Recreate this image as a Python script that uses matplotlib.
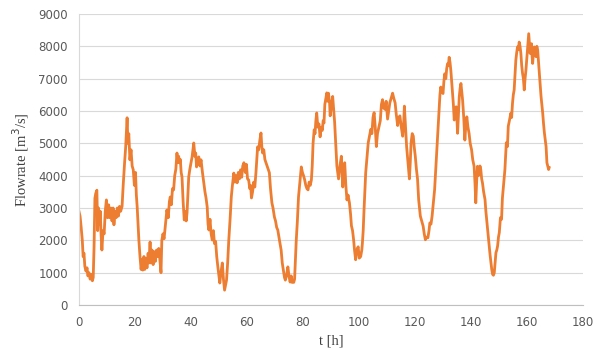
import numpy as np
import matplotlib
matplotlib.use("Agg")
import matplotlib.pyplot as plt

# hourly flow record (t in h, flow in m3/s)
t_h = [
    0, 0.4, 0.8, 1.2, 1.5, 1.8, 2.1, 2.5, 2.9, 3.2, 3.6, 4.0, 4.4, 4.8, 5.1, 5.4, 5.7, 6.0, 6.4, 6.7,
    7.0, 7.3, 7.6, 7.9, 8.2, 8.6, 9.0, 9.4, 9.8, 10.2, 10.6, 11.0, 11.4, 11.8, 12.2, 12.5, 12.9, 13.3, 13.7, 14.1,
    14.5, 14.9, 15.4, 15.8, 16.3, 16.7, 17.0, 17.2, 17.5, 17.8, 18.2, 18.6, 19.0, 19.4, 19.8, 20.2, 20.5, 20.8, 21.1, 21.4,
    21.8, 22.2, 22.5, 22.8, 23.2, 23.5, 23.9, 24.3, 24.7, 25.0, 25.4, 25.7, 26.1, 26.5, 26.9, 27.3, 27.7, 28.1, 28.5, 28.9,
    29.3, 29.6, 30.0, 30.4, 30.8, 31.4, 31.9, 32.3, 32.6, 33.0, 33.4, 33.8, 34.2, 34.6, 35.0, 35.3, 35.6, 36.0, 36.2, 36.5,
    36.8, 37.2, 37.6, 38.0, 38.3, 38.6, 38.9, 39.2, 39.6, 40.0, 40.4, 41.0, 41.4, 41.7, 42.0, 42.4, 42.8, 43.2, 43.6, 44.1,
    44.6, 45.0, 45.4, 45.8, 46.1, 46.4, 46.8, 47.2, 47.6, 48.0, 48.4, 48.8, 49.2, 49.6, 50.0, 50.3, 50.7, 51.2, 51.6, 52.0,
    52.3, 52.7, 53.1, 53.5, 54.0, 54.4, 54.8, 55.3, 55.7, 56.1, 56.5, 56.9, 57.3, 57.7, 58.1, 58.5, 58.9, 59.4, 59.8, 60.2,
    60.6, 61.0, 61.3, 61.6, 62.0, 62.4, 62.8, 63.2, 63.5, 63.8, 64.2, 64.6, 65.0, 65.3, 65.6, 66.0, 66.4, 66.8, 67.2, 67.6,
    68.0, 68.4, 68.9, 69.3, 69.8, 70.2, 70.6, 71.0, 71.4, 71.8, 72.2, 72.6, 73.0, 73.4, 73.7, 74.1, 74.6, 75.0, 75.4, 75.8,
    76.1, 76.4, 76.7, 77.0, 77.3, 77.6, 78.0, 78.4, 78.9, 79.4, 79.8, 80.2, 80.6, 81.0, 81.4, 81.8, 82.2, 82.6, 83.0, 83.3,
    83.6, 84.0, 84.3, 84.6, 84.9, 85.3, 85.7, 86.1, 86.5, 86.9, 87.2, 87.5, 87.8, 88.2, 88.5, 88.8, 89.1, 89.5, 89.7, 90.2,
    90.6, 91.0, 91.3, 91.7, 92.1, 92.4, 92.7, 93.2, 93.7, 94.2, 94.5, 94.9, 95.3, 95.7, 96.1, 96.6, 97.0, 97.3, 97.7, 98.1,
    98.4, 98.8, 99.2, 99.7, 100.1, 100.6, 101.0, 101.2, 101.5, 101.8, 102.1, 102.4, 102.8, 103.3, 103.7, 104.2, 104.6, 105.0, 105.4, 105.8,
    106.2, 106.6, 107.2, 107.6, 108.0, 108.4, 108.8, 109.3, 109.7, 110.2, 110.6, 111.0, 111.5, 112.0, 112.4, 112.9, 113.3, 113.8, 114.2, 114.6,
    115.1, 115.6, 116.0, 116.2, 116.6, 117.0, 117.4, 117.7, 118.0, 118.3, 118.6, 119.0, 119.4, 119.7, 120.1, 120.5, 120.9, 121.3, 121.9, 122.4,
    122.9, 123.3, 123.7, 124.2, 124.6, 125.0, 125.3, 125.7, 126.1, 126.5, 127.0, 127.4, 127.8, 128.2, 128.6, 128.9, 129.2, 129.6, 130.0, 130.3,
    130.6, 131.0, 131.3, 131.6, 131.9, 132.2, 132.5, 132.8, 133.1, 133.4, 133.7, 134.0, 134.4, 134.7, 135.0, 135.2, 135.5, 135.8, 136.1, 136.4,
    136.7, 137.0, 137.4, 137.8, 138.1, 138.5, 138.9, 139.3, 139.7, 140.2, 140.6, 141.1, 141.4, 141.7, 142.0, 142.3, 142.6, 142.9, 143.2, 143.5,
    143.8, 144.1, 144.5, 145.0, 145.3, 145.7, 146.1, 146.5, 146.8, 147.1, 147.4, 147.7, 148.0, 148.3, 148.6, 148.9, 149.2, 149.5, 149.8, 150.1,
    150.5, 150.9, 151.2, 151.6, 152.1, 152.6, 153.0, 153.3, 153.7, 154.2, 154.5, 154.8, 155.1, 155.4, 155.7, 156.0, 156.3, 156.6, 156.9, 157.2,
    157.5, 157.8, 158.1, 158.4, 158.7, 159.0, 159.3, 159.6, 159.9, 160.2, 160.6, 160.9, 161.1, 161.4, 161.6, 161.8, 162.0, 162.3, 162.6, 162.9,
    163.2, 163.5, 163.8, 164.1, 164.4, 164.7, 165.0, 165.3, 165.6, 165.9, 166.2, 166.5, 166.8, 167.1, 167.4, 167.7, 167.9,
]

flow = [
    2900, 2750, 2400, 2000, 1500, 1600, 1200, 1050, 1150, 900, 1000, 800, 950, 750, 850, 1800, 3300, 3450, 3550, 2300,
    3000, 2500, 2900, 2200, 1700, 2300, 2200, 2900, 3250, 2700, 3100, 2700, 3000, 2600, 3000, 2480, 2900, 2700, 3000, 2750,
    3050, 2900, 3050, 3700, 4400, 4900, 5400, 5790, 5000, 5300, 4490, 4800, 4300, 4180, 3700, 4100, 3400, 3030, 2500, 2010,
    1500, 1100, 1400, 1080, 1500, 1100, 1450, 1150, 1600, 1300, 1950, 1300, 1700, 1250, 1650, 1350, 1700, 1500, 1750, 1400,
    1000, 2000, 2200, 2050, 2400, 2940, 2700, 3200, 3340, 3100, 3600, 3560, 4000, 4200, 4700, 4400, 4600, 4400, 4500, 4100,
    3960, 3200, 2630, 2900, 2600, 2850, 3400, 3960, 4200, 4400, 4580, 5010, 4600, 4700, 4270, 4500, 4580, 4300, 4490, 4100,
    3780, 3500, 3300, 3030, 2500, 2320, 2650, 2200, 2010, 2300, 1900, 1970, 1500, 1180, 900, 680, 1000, 1300, 800, 460,
    600, 770, 1300, 2000, 2700, 3340, 3700, 4080, 3800, 4000, 3780, 4100, 3900, 4180, 3950, 4300, 4400, 4100, 4350, 3900,
    3870, 3600, 3700, 3310, 3500, 3800, 3650, 4090, 4500, 4890, 4800, 5100, 5320, 4900, 4700, 4800, 4500, 4400, 4300, 4200,
    4090, 3600, 3160, 3000, 2720, 2600, 2400, 2320, 2100, 1900, 1700, 1300, 1080, 850, 770, 900, 1180, 900, 710, 900,
    700, 770, 700, 800, 1400, 2010, 2600, 3340, 3800, 4270, 4100, 4000, 3870, 3700, 3600, 3560, 3800, 3700, 3870, 4300,
    5000, 5420, 5300, 5700, 5940, 5500, 5600, 5200, 5500, 5400, 5700, 5630, 6200, 6400, 6560, 6300, 6550, 6250, 5850, 6200,
    6450, 6000, 5650, 5000, 4300, 4100, 3900, 4300, 4600, 3650, 4100, 4400, 3700, 3250, 3400, 3150, 2800, 2450, 2300, 2000,
    1700, 1400, 1700, 1800, 1450, 1500, 1700, 1900, 2300, 2950, 3500, 4100, 4500, 5020, 5200, 5430, 5300, 5800, 5950, 5500,
    4900, 5300, 5550, 5700, 6200, 6350, 6100, 6050, 6300, 5750, 6000, 6250, 6400, 6550, 6400, 6250, 5900, 5550, 5800, 5850,
    5500, 5220, 5700, 6150, 5500, 4900, 4500, 4200, 3900, 4400, 5020, 5300, 5220, 4900, 4600, 4200, 3900, 3260, 2750, 2600,
    2440, 2200, 2020, 2100, 2080, 2300, 2540, 2500, 2750, 3100, 3570, 4200, 4800, 5500, 6130, 6500, 6740, 6600, 6540, 6900,
    7150, 7000, 7300, 7460, 7400, 7660, 7500, 7250, 6900, 6540, 6200, 5720, 6000, 6130, 5700, 5310, 5900, 6440, 6700, 6850,
    6600, 6330, 5800, 5100, 5500, 5820, 5500, 5310, 5000, 4800, 4500, 4290, 3800, 3160, 3800, 4290, 4000, 4080, 4300, 4180,
    3900, 3770, 3500, 3260, 2900, 2540, 2200, 1830, 1550, 1320, 1100, 950, 920, 1000, 1300, 1620, 1700, 1830, 2100, 2240,
    2700, 2650, 3300, 3700, 4190, 5020, 4900, 5530, 5700, 5930, 5800, 6230, 6500, 6650, 7100, 7570, 7800, 7980, 7900, 8130,
    8000, 7780, 7400, 7160, 7000, 6650, 7000, 7260, 7600, 7980, 8390, 8000, 7780, 7900, 8080, 7700, 7470, 7800, 7980, 7800,
    7680, 8000, 7880, 7500, 7160, 6800, 6450, 6200, 5930, 5600, 5320, 5100, 4900, 4400, 4300, 4190, 4250,
]

x_ticks = [0, 20, 40, 60, 80, 100, 120, 140, 160, 180]
y_ticks = [0, 1000, 2000, 3000, 4000, 5000, 6000, 7000, 8000, 9000]

fig = plt.figure(figsize=(5.98, 3.49), dpi=100)
ax = fig.add_axes([0.132, 0.126, 0.843, 0.834])

ax.plot(t_h, flow, color="#ED7D31", linewidth=2.0, solid_joinstyle="round")

ax.set_xlim(0, 180)
ax.set_ylim(0, 9000)
ax.set_xticks(x_ticks)
ax.set_yticks(y_ticks)
ax.grid(axis="y", color="#D9D9D9", linewidth=0.8)
ax.set_axisbelow(True)

for side in ["top", "right"]:
    ax.spines[side].set_visible(False)
ax.spines["left"].set_color("#D9D9D9")
ax.spines["bottom"].set_color("#BFBFBF")
ax.tick_params(length=0, labelsize=8.5, labelcolor="#595959", pad=8)
for lab in ax.get_xticklabels() + ax.get_yticklabels():
    lab.set_fontfamily("DejaVu Sans")

ax.set_ylabel("Flowrate [m$^3$/s]", fontsize=10.5, family="Liberation Serif",
              color="#404040", labelpad=5)
ax.set_xlabel("t [h]", fontsize=10.5, family="Liberation Serif",
              color="#404040", labelpad=4)

fig.savefig("out.png", dpi=100)
